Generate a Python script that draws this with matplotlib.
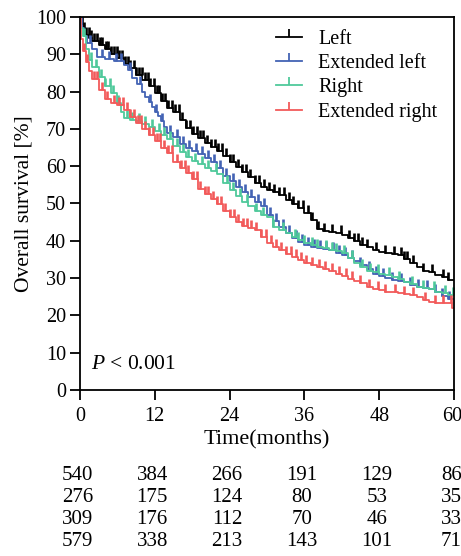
import numpy as np
import matplotlib
matplotlib.use("Agg")
import matplotlib.pyplot as plt
from matplotlib import transforms
from matplotlib.lines import Line2D

plt.rcParams['font.family'] = ['Liberation Serif', 'DejaVu Serif']
plt.rcParams['mathtext.fontset'] = 'custom'
plt.rcParams['mathtext.it'] = 'Liberation Serif:italic'
plt.rcParams['mathtext.rm'] = 'Liberation Serif'

# Left
t_left = [0, 0.3, 0.6, 1, 1.5, 2, 3, 4, 5, 6, 7, 8, 9, 10, 11, 12, 13, 14, 15, 16, 17, 18, 19, 20,
          21, 22, 23, 24, 25, 26, 27, 28, 29, 30, 31, 32, 33, 34, 35, 36, 37, 38, 39, 40, 41, 42,
          43, 44, 45, 46, 47, 48, 49, 50, 51, 52, 53, 54, 55, 56, 57, 58, 59]
s_left = [100, 98, 96.5, 95.3, 94.5, 93.5, 92.5, 91.3, 90.2, 89, 87.5, 86.3, 84.5, 83, 81.5, 79.5,
          77.5, 75.5, 74.5, 72.5, 70.2, 68.5, 67.5, 66.3, 65.2, 64, 62.8, 61.2, 59.8, 58.5, 57, 55.5,
          54.5, 53.6, 53, 52.3, 51, 49.8, 48.8, 47.5, 45.5, 43.2, 42.7, 42.4, 42.1, 41.5, 40.8, 40,
          38.9, 38.3, 37.5, 37, 36.8, 36.5, 36.2, 35, 34, 33, 32, 31.5, 30.8, 30.2, 29.5]
c_left = [0.3, 0.6, 1.0, 1.4, 1.8, 2.2, 2.8, 3.2, 3.6, 4.1, 4.5, 5.0, 5.4, 5.9, 6.3, 6.8, 7.2, 7.7,
          8.1, 8.6, 9.0, 9.5, 9.9, 10.4, 10.9, 11.3, 11.8, 12.3, 12.7, 13.2, 13.7, 14.2, 14.8, 15.3,
          15.9, 16.4, 17.0, 17.6, 18.1, 18.7, 19.2, 19.8, 20.4, 21.0, 21.6, 22.2, 22.8, 23.4, 24.0,
          24.6, 25.3, 26.0, 26.6, 27.3, 28.0, 28.7, 29.5, 30.4, 31.2, 32.0, 32.8, 33.5, 34.2, 35.0,
          35.8, 36.5, 37.3, 38.2, 39.2, 40.4, 41.8, 43.2, 44.0, 44.6, 45.2, 46.0, 47.5, 49.0, 50.3,
          51.5, 52.0, 52.5, 53.5, 55.0, 56.5, 58.2, 59.0]

# Extended left
t_extl = [0, 0.3, 0.7, 1.2, 2, 2.8, 4, 5.5, 7, 7.7, 8.3, 9.2, 10, 10.5, 11, 11.5, 12, 12.5, 13, 13.5,
          14, 15, 16, 17, 18, 19, 20, 21, 22, 23, 24, 25, 26, 27, 28, 29, 30, 31, 32, 33, 34, 35,
          36, 37, 38, 39, 40, 41, 42, 43, 44, 45, 46, 47, 48, 49, 50, 51, 52, 53, 54, 55, 56, 57,
          58, 59]
s_extl = [100, 97, 95, 93, 91.5, 89.3, 88.8, 88.3, 87, 85.8, 83.6, 82, 80, 78.5, 77.3, 75.8, 74.5,
          73.5, 72, 70.5, 69, 67.8, 66, 64.8, 64.2, 63.3, 62.2, 61, 59.5, 57.5, 56, 54.5, 53, 51.8,
          50.5, 49.2, 47, 45.3, 43.8, 42, 40.8, 39.8, 39, 38.3, 38, 37.8, 37.5, 36.8, 36.2, 35.5,
          34.5, 33.5, 32.5, 31.2, 30.5, 30, 29.6, 29.3, 29, 28.2, 27.6, 27.3, 27, 26.3, 25.2, 24.3]
c_extl = [1.6, 3.5, 4.6, 5.8, 6.6, 8.0, 9.6, 11.2, 12.2, 13.2, 14.5, 15.5, 16.5, 17.5, 18.6, 19.5,
          20.5, 21.5, 22.5, 23.5, 24.5, 25.5, 26.5, 27.5, 28.5, 29.5, 30.5, 31.5, 32.6, 33.5, 34.6,
          35.6, 36.6, 37.5, 38.5, 39.5, 40.6, 41.5, 42.5, 43.7, 45.0, 46.3, 47.5, 48.6, 50.0, 51.5,
          53.0, 54.3, 55.6, 57.0, 58.0, 59.2]

# Right
t_right = [0, 0.2, 0.5, 1, 1.5, 2, 3, 4, 5, 6, 6.5, 7, 8, 9, 10, 11, 12, 13, 14, 15, 16, 17, 18,
           19, 20, 21, 22, 23, 24, 25, 26, 27, 28, 29, 30, 31, 32, 33, 34, 35, 36, 37, 38, 39, 40,
           41, 42, 43, 44, 45, 46, 47, 48, 49, 50, 51, 52, 53, 54, 55, 56, 57, 58, 59]
s_right = [100, 97, 95, 91.5, 88.5, 86.5, 84, 81.5, 79.5, 77, 74.5, 73, 72.5, 72, 71.3, 70.5, 69.5,
           68.3, 67.3, 65.5, 63.8, 62.5, 61.5, 60.5, 59.5, 58.7, 57.8, 55.5, 53.5, 52, 50.5, 49.3,
           48, 47, 46.5, 43.8, 43, 42, 41, 40.2, 39.3, 38.8, 38.3, 38, 37.5, 37.2, 36.8, 35.5, 34,
           33, 32, 31.5, 31.2, 30.8, 30.2, 29.8, 29, 28.3, 27.6, 27.3, 27, 26.3, 26, 25.5]
c_right = [0.7, 1.8, 2.6, 3.3, 4.0, 4.8, 5.3, 6.1, 7.5, 8.4, 9.5, 10.4, 11.6, 12.6, 13.5, 14.4,
           15.6, 16.6, 17.4, 18.5, 19.6, 20.6, 21.8, 23.6, 24.6, 25.6, 26.8, 28.3, 29.3, 31.0, 32.5,
           34.5, 35.0, 36.0, 37.2, 38.0, 39.4, 40.5, 41.0, 42.3, 43.7, 45.2, 46.5, 47.8, 49.5, 51.2,
           53.2, 55.0, 56.8, 58.5, 59.8]

# Extended right
t_extr = [0, 0.2, 0.5, 1, 1.5, 2, 3, 4, 5, 6, 7, 8, 9, 10, 11, 12, 13, 14, 15, 16, 17, 18, 19, 20,
          21, 22, 23, 24, 25, 26, 27, 28, 29, 30, 31, 32, 33, 34, 35, 36, 37, 38, 39, 40, 41, 42,
          43, 44, 45, 46, 47, 48, 49, 50, 51, 52, 53, 54, 55, 56, 57, 58, 59, 59.7]
s_extr = [100, 94, 91, 88, 85.5, 83.5, 80.5, 78, 77, 76.4, 75, 73.2, 71.5, 70, 68.3, 66.8, 65, 63.5,
          61, 59.5, 58.3, 56.5, 54, 52.5, 51.2, 49.8, 48, 46.5, 45, 44, 43.5, 42.8, 41, 39.5, 38.3,
          37.4, 36.5, 35.7, 34.8, 34, 33.4, 32.9, 32.5, 31.8, 31, 30.5, 29.8, 29.3, 28.8, 27.5, 27.2,
          26.8, 26.4, 26.2, 26, 25.8, 25.4, 24.8, 24.2, 23.6, 23.4, 23.3, 23.3, 22]
c_extr = [0.6, 1.2, 2.3, 2.7, 3.6, 4.3, 5.4, 6.3, 6.9, 7.5, 8.1, 8.6, 9.3, 9.8, 10.5, 11.1, 11.7,
          12.3, 12.9, 13.4, 14.2, 14.8, 15.5, 16.2, 16.8, 17.4, 18.1, 18.7, 19.3, 20.0, 20.6, 21.3,
          22.0, 22.6, 23.3, 24.0, 24.7, 25.4, 26.1, 26.8, 27.5, 28.3, 29.1, 29.8, 30.6, 31.5, 32.3,
          33.1, 33.9, 34.7, 35.5, 36.3, 37.3, 38.3, 39.3, 40.4, 41.5, 42.6, 43.7, 45.0, 46.4, 47.8,
          49.0, 50.5, 52.0, 53.5, 55.3, 57.0, 58.3, 59.5]

groups = ['Left', 'Extended left', 'Right', 'Extended right']
colors = ['#000000', '#4363b4', '#4fc99b', '#f25a5a']
times = [t_left, t_extl, t_right, t_extr]
surv = [s_left, s_extl, s_right, s_extr]
cens = [c_left, c_extl, c_right, c_extr]

xticks = [0, 12, 24, 36, 48, 60]
at_risk = [
    [540, 384, 266, 191, 129, 86],
    [276, 175, 124, 80, 53, 35],
    [309, 176, 112, 70, 46, 33],
    [579, 338, 213, 143, 101, 71],
]

fig = plt.figure(figsize=(4.61, 5.56), dpi=100)
ax = fig.add_axes([0.1735, 0.2986, 0.8113, 0.6708])

for name, col, t, s, c in zip(groups, colors, times, surv, cens):
    t = np.append(t, 60)
    s = np.append(s, s[-1])
    ax.step(t, s, where='post', color=col, lw=1.3)
    c = np.array(c)
    idx = np.searchsorted(t, c, side='right') - 1
    ax.plot(c, s[idx], ls='none', marker=2, ms=6, mew=1.9, color=col)

handles = [Line2D([0, 0.5, 1], [0, 0, 0], color=col, lw=1.3, marker=2, ms=6, mew=1.3,
                  markevery=[1]) for col in colors]
ax.legend(handles, groups, loc='upper right', frameon=False, fontsize=14.5,
          handlelength=1.3, handletextpad=0.8, labelspacing=0.25,
          bbox_to_anchor=(0.99, 1.0), borderaxespad=0.25)

ax.set_xlim(0, 60)
ax.set_ylim(0, 100)
ax.set_xticks(xticks)
ax.set_yticks(range(0, 101, 10))
ax.tick_params(direction='out', length=7, width=1.3, labelsize=14.5)
ax.tick_params(axis='x', pad=5)
ax.tick_params(axis='y', pad=3)
for sp in ax.spines.values():
    sp.set_linewidth(1.3)
# keep the last x tick label inside the figure
last = ax.get_xticklabels()[-1]
last.set_transform(last.get_transform() + transforms.ScaledTranslation(-2 / 100, 0, fig.dpi_scale_trans))

ax.set_xlabel('Time(months)', fontsize=16, labelpad=3)
ax.set_ylabel('Overall survival [%]', fontsize=15.5, labelpad=2)
ax.text(1.8, 6.7, r'$P$ < 0.001', fontsize=15.5, va='center', ha='left')

trans = transforms.blended_transform_factory(ax.transData, fig.transFigure)
row_y = [1 - 475 / 556, 1 - 497 / 556, 1 - 519 / 556, 1 - 542 / 556]
for row, yy in zip(at_risk, row_y):
    for xv, n in zip(xticks, row):
        ax.text(xv - 0.4, yy, str(n), transform=trans, ha='center', va='center', fontsize=15,
                clip_on=False)

fig.savefig('out.png', dpi=100)
